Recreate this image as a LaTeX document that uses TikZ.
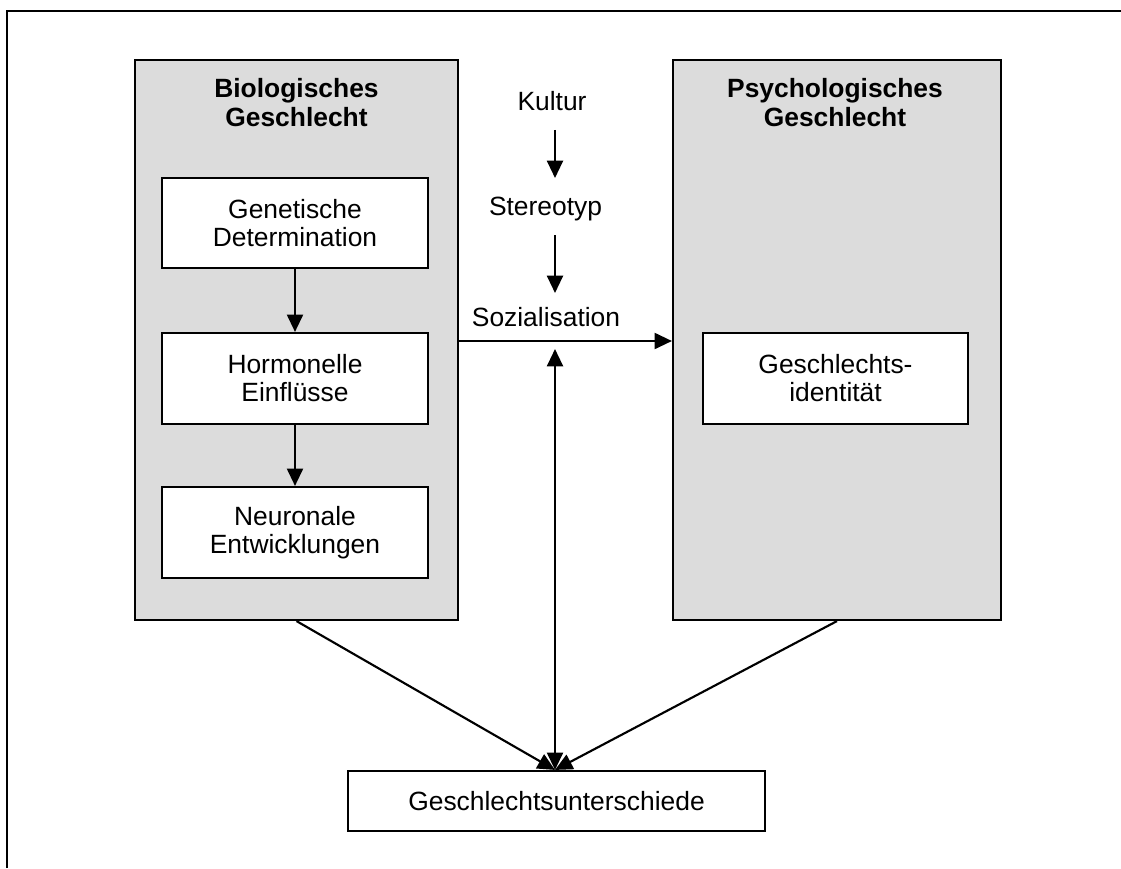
\documentclass[tikz,border=0pt]{standalone}
\usepackage{fontspec}
\setmainfont{Liberation Sans}
\usetikzlibrary{arrows.meta}
\definecolor{boxgray}{RGB}{220,220,220}
\tikzset{
  every node/.style={font=\fontsize{19.8}{21}\selectfont},
  graybox/.style={draw=black, line width=1.6pt, fill=boxgray, inner sep=0pt},
  whitebox/.style={draw=black, line width=1.6pt, fill=white, align=center, inner sep=0pt},
  title/.style={font=\fontsize{19.8}{21.75}\selectfont\bfseries, align=center, inner sep=0pt},
  plain/.style={inner sep=0pt},
  arr/.style={line width=1.6pt, -{Triangle[length=13pt,width=12pt]}},
  dblarr/.style={line width=1.6pt, {Triangle[length=13pt,width=12pt]}-{Triangle[length=13pt,width=12pt]}},
}
\begin{document}
\begin{tikzpicture}[x=0.75pt,y=-0.75pt]
\useasboundingbox (0,0) rectangle (1121,868);
% partial outer frame
\coordinate (frameTL) at (7,11);
\coordinate (frameTR) at (1121,11);
\coordinate (frameBL) at (7,868);
\draw[line width=2.2pt] (frameBL) -- (frameTL) -- (frameTR);

% gray boxes
\node[graybox, minimum width=242.25pt, minimum height=420pt] (bio) at (296.5,340) {};
\node[graybox, minimum width=246pt, minimum height=420pt] (psy) at (837,340) {};
\node[title] (biot) at (296.5,102.5) {Biologisches\\Geschlecht};
\node[title] (psyt) at (835,102.5) {Psychologisches\\Geschlecht};

% inner boxes
\node[whitebox, minimum width=199.5pt, minimum height=67.5pt] (gen) at (295,223) {Genetische\\Determination};
\node[whitebox, minimum width=199.5pt, minimum height=68.25pt] (horm) at (295,378.5) {Hormonelle\\Einflüsse};
\node[whitebox, minimum width=199.5pt, minimum height=68.25pt] (neur) at (295,532.5) {Neuronale\\Entwicklungen};
\node[whitebox, minimum width=198.75pt, minimum height=68.25pt] (gid) at (835.5,378.5) {Geschlechts-\\identität};
\node[whitebox, minimum width=312.75pt, minimum height=45pt] (diff) at (556.5,801) {Geschlechtsunterschiede};

% middle labels
\node[plain, anchor=base] (kultur) at (552,110.5) {Kultur};
\node[plain, anchor=base] (stereo) at (545.5,215) {Stereotyp};
\node[plain, anchor=base] (soz) at (546,326) {Sozialisation};

\coordinate (vx) at (555,341);
\coordinate (vtop) at (555,349);

% arrows
\draw[arr] (gen.south) -- (horm.north);
\draw[arr] (horm.south) -- (neur.north);
\draw[arr, shorten <=14.6pt, shorten >=27.75pt] (kultur.base -| vx) -- (stereo.base -| vx);
\draw[arr, shorten <=15pt, shorten >=24.75pt] (stereo.base -| vx) -- (soz.base -| vx);
\draw[arr] (bio.east |- vx) -- (psy.west |- vx);
\draw[dblarr] (vtop) -- (diff.north -| vtop);
\draw[arr] (bio.south) -- (diff.north -| vtop);
\draw[arr] (psy.south) -- (diff.north -| vtop);
\end{tikzpicture}
\end{document}
